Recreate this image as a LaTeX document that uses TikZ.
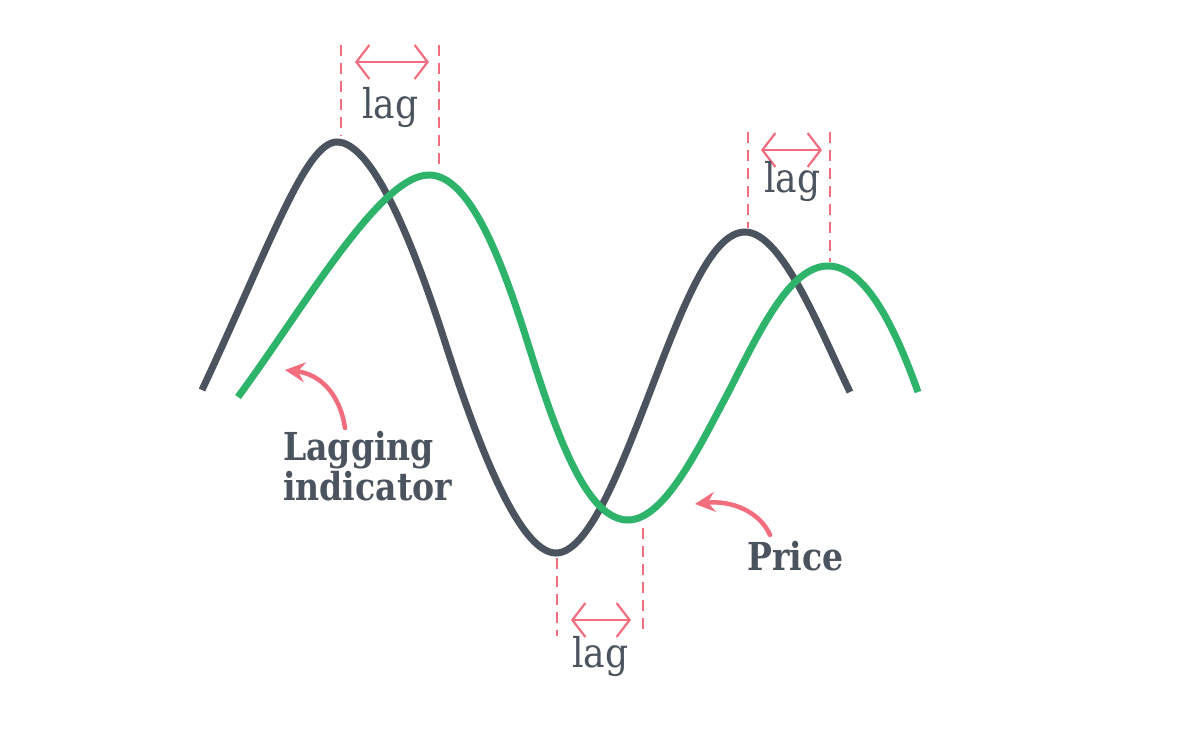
\documentclass[tikz,border=0pt]{standalone}
\usepackage{fontspec}
\setmainfont{DejaVu Serif}
\newfontfamily\lagfont[FakeStretch=0.88]{DejaVu Serif}
\newfontfamily\labfont[FakeStretch=0.86]{DejaVu Serif Bold}
\usetikzlibrary{arrows.meta}
\definecolor{ink}{HTML}{4A535E}
\definecolor{pgreen}{HTML}{2DB36A}
\definecolor{lagpink}{HTML}{F26D7D}
\tikzset{
  dark/.style={draw=ink,line width=7pt},
  price/.style={draw=pgreen,line width=7pt},
  guide/.style={draw=lagpink,line width=2.3pt,dash pattern=on 11pt off 7pt},
  span/.style={draw=lagpink,line width=2.2pt,{Straight Barb[length=13pt,width=34pt,line width=2.2pt]}-{Straight Barb[length=13pt,width=34pt,line width=2.2pt]}},
  pointer/.style={draw=lagpink,line width=4.5pt,line cap=round,-{Stealth[length=20pt,width=20pt,inset=7pt]}},
  lagtxt/.style={text=ink,font=\fontsize{41}{46}\lagfont,inner sep=0pt,anchor=base west},
  labtxt/.style={text=ink,font=\fontsize{38.5}{40}\labfont,inner sep=0pt,align=left,anchor=base west}
}
\begin{document}
\begin{tikzpicture}[x=1pt,y=-1pt]
\useasboundingbox[fill=white] (0,0) rectangle (1200,732);
% lagging indicator (dark)
\draw[dark] (202,390) .. controls (272,240) and (306,142) .. (337,142)
  .. controls (375,142) and (418,258) .. (445,342)
  .. controls (475,436) and (518,553) .. (556,553)
  .. controls (588,553) and (620,470) .. (650,392)
  .. controls (680,314) and (710,232) .. (745,232)
  .. controls (782,232) and (820,330) .. (850,392);
% price (green)
\draw[price] (238,397) .. controls (305,306) and (380,175) .. (429,175)
  .. controls (472,175) and (505,270) .. (530,350)
  .. controls (558,440) and (588,520) .. (628,520)
  .. controls (665,520) and (700,445) .. (728,393)
  .. controls (760,330) and (790,266) .. (828,266)
  .. controls (866,266) and (896,330) .. (918,392);
% guides
\coordinate (a1) at (341,45); \coordinate (a2) at (341,136);
\coordinate (b1) at (439,45); \coordinate (b2) at (439,166);
\coordinate (c1) at (748,132); \coordinate (c2) at (748,228);
\coordinate (d1) at (830,132); \coordinate (d2) at (830,262);
\coordinate (e1) at (557,558); \coordinate (e2) at (557,636);
\coordinate (f1) at (643,528); \coordinate (f2) at (643,636);
\foreach \p/\q in {a1/a2,b1/b2,c1/c2,d1/d2,e1/e2,f1/f2} \draw[guide] (\p) -- (\q);
% spans
\coordinate (s1l) at (355,62); \coordinate (s1r) at (429,62);
\coordinate (s2l) at (761,150); \coordinate (s2r) at (822,150);
\coordinate (s3l) at (571,620); \coordinate (s3r) at (631,620);
\draw[span] (s1l) -- (s1r);
\draw[span] (s2l) -- (s2r);
\draw[span] (s3l) -- (s3r);
\node[lagtxt] (lag1) at (362,118) {lag};
\node[lagtxt] (lag2) at (764,192) {lag};
\node[lagtxt] (lag3) at (572,667) {lag};
% labels
\node[labtxt] (lagind) at (283,500) {Lagging\\indicator};
\node[labtxt] (pricelab) at (747,570) {Price};
\coordinate (p1s) at (345,428); \coordinate (p1e) at (285,370);
\coordinate (p2s) at (770,535); \coordinate (p2e) at (695,504);
\draw[pointer] (p1s) .. controls (340,394) and (320,374) .. (p1e);
\draw[pointer] (p2s) .. controls (760,512) and (732,500) .. (p2e);
\end{tikzpicture}
\end{document}
